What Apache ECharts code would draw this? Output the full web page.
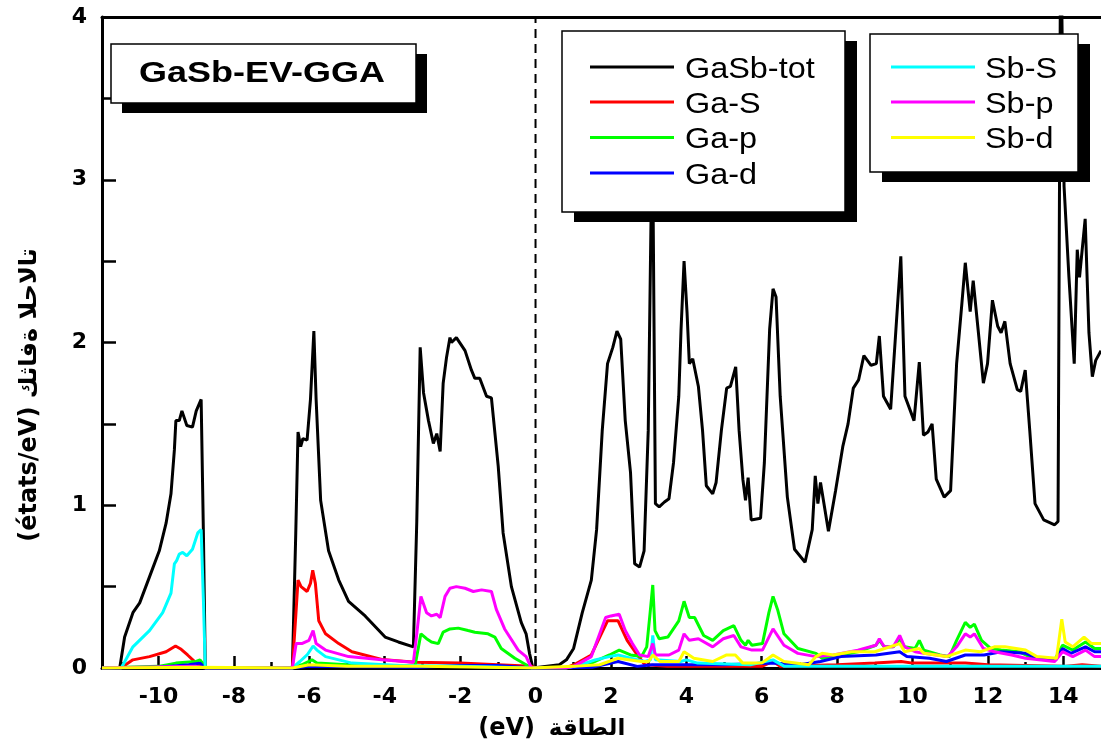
<!DOCTYPE html>
<html>
<head>
<meta charset="utf-8">
<script src="https://cdn.jsdelivr.net/npm/echarts@6/dist/echarts.min.js"></script>
<style>
  html, body { margin: 0; padding: 0; background: #fff; }
  #chart { width: 1101px; height: 749px; }
</style>
</head>
<body>
<div id="chart"></div>
<script>
// DOS curves, [energy (eV), value (états/eV)]
const gasbTot = [[-11.5,0],[-11.03,0],[-10.9,0.19],[-10.68,0.34],[-10.5,0.40],[-10.24,0.56],[-9.98,0.72],[-9.8,0.89],[-9.67,1.07],[-9.58,1.34],[-9.54,1.52],[-9.45,1.52],[-9.38,1.58],[-9.25,1.49],[-9.1,1.48],[-9.0,1.58],[-8.87,1.65],[-8.81,0.83],[-8.76,0],[-6.45,0],[-6.36,0.83],[-6.30,1.45],[-6.23,1.36],[-6.17,1.41],[-6.06,1.40],[-5.97,1.65],[-5.88,2.07],[-5.82,1.65],[-5.70,1.03],[-5.49,0.72],[-5.22,0.54],[-4.96,0.41],[-4.52,0.32],[-3.99,0.19],[-3.64,0.16],[-3.24,0.13],[-3.15,0.9],[-3.06,1.97],[-2.97,1.69],[-2.84,1.52],[-2.71,1.38],[-2.62,1.44],[-2.53,1.33],[-2.45,1.75],[-2.36,1.91],[-2.27,2.03],[-2.23,2.0],[-2.10,2.03],[-1.87,1.95],[-1.70,1.83],[-1.61,1.78],[-1.48,1.78],[-1.30,1.67],[-1.17,1.66],[-0.99,1.24],[-0.86,0.83],[-0.64,0.50],[-0.38,0.28],[-0.25,0.21],[-0.16,0.09],[-0.07,0],[0.63,0.02],[0.82,0.05],[1.01,0.12],[1.24,0.34],[1.48,0.54],[1.62,0.85],[1.77,1.46],[1.91,1.87],[2.05,1.97],[2.16,2.07],[2.26,2.02],[2.38,1.52],[2.52,1.20],[2.63,0.64],[2.76,0.62],[2.88,0.72],[2.99,1.46],[3.1,3.4],[3.18,1.01],[3.28,0.99],[3.42,1.02],[3.54,1.04],[3.66,1.26],[3.80,1.67],[3.86,2.08],[3.94,2.50],[4.02,2.18],[4.08,1.87],[4.17,1.90],[4.32,1.73],[4.43,1.46],[4.53,1.12],[4.70,1.07],[4.79,1.14],[4.93,1.46],[5.07,1.72],[5.17,1.73],[5.31,1.85],[5.40,1.46],[5.50,1.16],[5.57,1.03],[5.64,1.17],[5.72,0.91],[5.97,0.92],[6.07,1.26],[6.21,2.08],[6.30,2.33],[6.38,2.28],[6.49,1.67],[6.68,1.05],[6.87,0.73],[7.15,0.65],[7.34,0.85],[7.42,1.18],[7.49,1.01],[7.56,1.14],[7.77,0.84],[7.96,1.09],[8.15,1.36],[8.29,1.50],[8.43,1.72],[8.57,1.77],[8.71,1.92],[8.90,1.86],[9.04,1.87],[9.12,2.04],[9.23,1.67],[9.42,1.59],[9.56,2.08],[9.69,2.53],[9.80,1.67],[10.04,1.52],[10.18,1.88],[10.29,1.43],[10.41,1.45],[10.52,1.50],[10.63,1.16],[10.84,1.05],[11.01,1.09],[11.17,1.87],[11.31,2.24],[11.40,2.49],[11.53,2.19],[11.61,2.38],[11.74,2.08],[11.88,1.75],[11.99,1.87],[12.12,2.26],[12.26,2.10],[12.35,2.06],[12.45,2.13],[12.59,1.87],[12.78,1.71],[12.87,1.70],[12.99,1.83],[13.11,1.46],[13.25,1.01],[13.48,0.91],[13.77,0.88],[13.86,0.9],[13.93,4.6],[14.02,2.96],[14.15,2.4],[14.29,1.87],[14.37,2.57],[14.43,2.40],[14.58,2.76],[14.68,2.06],[14.77,1.79],[14.86,1.89],[15,1.95]];

const gaS = [[-11.5,0],[-11.0,0],[-10.68,0.05],[-10.24,0.07],[-9.8,0.10],[-9.55,0.135],[-9.4,0.115],[-9.23,0.08],[-9.0,0.03],[-8.85,0.01],[-8.76,0],[-6.45,0],[-6.36,0.32],[-6.30,0.54],[-6.22,0.50],[-6.06,0.47],[-5.97,0.52],[-5.91,0.60],[-5.84,0.52],[-5.75,0.29],[-5.57,0.21],[-5.22,0.15],[-4.87,0.10],[-4.08,0.053],[-3.19,0.035],[-2.0,0.03],[-1.0,0.02],[-0.1,0.01],[0,0],[0.8,0],[1.02,0.02],[1.48,0.08],[1.91,0.29],[2.19,0.29],[2.43,0.17],[2.67,0.09],[2.9,0.02],[3.5,0.01],[6.0,0.01],[6.3,0.04],[6.5,0.01],[8,0.02],[9,0.03],[9.7,0.04],[10,0.03],[11.4,0.03],[12,0.02],[14,0.01],[14.5,0.02],[15,0.01]];

const gaP = [[-11.5,0],[-10,0.01],[-9.54,0.03],[-9.0,0.04],[-8.9,0.05],[-8.8,0.02],[-8.76,0],[-6.45,0],[-6.2,0.02],[-5.93,0.05],[-5.8,0.03],[-5,0.02],[-3.2,0.01],[-3.15,0.02],[-3.04,0.21],[-2.89,0.18],[-2.76,0.16],[-2.58,0.15],[-2.45,0.22],[-2.27,0.24],[-2.05,0.245],[-1.79,0.23],[-1.61,0.22],[-1.26,0.21],[-1.08,0.19],[-0.91,0.12],[-0.55,0.06],[-0.25,0.02],[-0.1,0],[0.8,0],[1.1,0.01],[1.48,0.03],[1.96,0.08],[2.22,0.11],[2.52,0.08],[2.81,0.07],[2.95,0.13],[3.04,0.34],[3.11,0.51],[3.17,0.23],[3.28,0.18],[3.51,0.19],[3.80,0.29],[3.94,0.41],[4.08,0.31],[4.22,0.31],[4.46,0.20],[4.70,0.17],[4.98,0.23],[5.26,0.26],[5.45,0.17],[5.57,0.14],[5.64,0.17],[5.74,0.14],[6.02,0.15],[6.19,0.34],[6.30,0.44],[6.42,0.36],[6.59,0.21],[6.96,0.12],[7.44,0.09],[7.6,0.06],[7.9,0.07],[8.55,0.10],[9.03,0.14],[9.12,0.17],[9.25,0.13],[9.49,0.13],[9.66,0.18],[9.79,0.13],[10.07,0.12],[10.18,0.17],[10.3,0.11],[10.73,0.08],[10.98,0.07],[11.17,0.17],[11.40,0.28],[11.53,0.25],[11.64,0.27],[11.83,0.17],[12.07,0.12],[12.35,0.11],[12.82,0.10],[13.1,0.07],[13.77,0.05],[13.98,0.14],[14.25,0.11],[14.59,0.16],[14.83,0.12],[15,0.12]];

const gaD = [[-11.5,0],[-10,0.005],[-9.2,0.02],[-8.9,0.03],[-8.76,0],[-6.45,0],[-6,0.01],[-3.1,0.005],[-2,0.015],[-1,0.015],[-0.1,0],[1.5,0.005],[2.19,0.04],[2.7,0.01],[3.1,0.02],[4,0.02],[5,0.02],[6.3,0.03],[7,0.02],[7.56,0.04],[8.1,0.07],[9.03,0.08],[9.66,0.10],[9.85,0.07],[10.45,0.06],[10.9,0.04],[11.4,0.08],[11.9,0.08],[12.35,0.10],[13.0,0.09],[13.3,0.06],[13.8,0.05],[13.98,0.12],[14.2,0.09],[14.59,0.13],[14.83,0.10],[15,0.1]];

const sbS = [[-11.5,0],[-10.99,0],[-10.68,0.13],[-10.24,0.23],[-9.89,0.34],[-9.67,0.46],[-9.58,0.64],[-9.52,0.66],[-9.45,0.70],[-9.36,0.71],[-9.25,0.69],[-9.10,0.73],[-8.96,0.83],[-8.87,0.85],[-8.81,0.42],[-8.76,0],[-6.45,0],[-6.25,0.04],[-6.06,0.08],[-5.9,0.135],[-5.8,0.11],[-5.57,0.07],[-4.87,0.03],[-3.6,0.015],[-2,0.01],[-0.1,0],[0.8,0],[1.2,0.02],[1.58,0.05],[1.96,0.07],[2.19,0.08],[2.52,0.06],[2.9,0.04],[3.05,0.05],[3.11,0.20],[3.18,0.05],[3.85,0.04],[4.0,0.05],[4.3,0.03],[5.7,0.02],[6.3,0.05],[6.6,0.01],[15,0.01]];

const sbP = [[-11.5,0],[-10.5,0.005],[-9,0.01],[-8.76,0],[-6.45,0],[-6.35,0.15],[-6.2,0.15],[-6.01,0.17],[-5.90,0.23],[-5.82,0.15],[-5.57,0.11],[-4.96,0.07],[-4.08,0.05],[-3.24,0.035],[-3.15,0.21],[-3.04,0.44],[-2.89,0.34],[-2.76,0.32],[-2.62,0.33],[-2.53,0.31],[-2.40,0.44],[-2.27,0.49],[-2.10,0.50],[-1.87,0.49],[-1.65,0.47],[-1.43,0.48],[-1.17,0.47],[-1.04,0.36],[-0.82,0.24],[-0.46,0.11],[-0.25,0.07],[-0.11,0],[0.8,0],[1.02,0.01],[1.48,0.07],[1.86,0.31],[2.0,0.32],[2.22,0.33],[2.38,0.23],[2.57,0.15],[2.76,0.08],[2.99,0.07],[3.11,0.15],[3.18,0.08],[3.54,0.08],[3.80,0.11],[3.94,0.21],[4.08,0.17],[4.32,0.18],[4.70,0.13],[4.98,0.18],[5.26,0.20],[5.45,0.13],[5.74,0.11],[6.02,0.11],[6.30,0.24],[6.59,0.14],[6.96,0.09],[7.44,0.07],[7.9,0.08],[8.55,0.11],[9.03,0.14],[9.12,0.18],[9.25,0.13],[9.49,0.13],[9.66,0.20],[9.79,0.13],[10.07,0.10],[10.3,0.09],[10.93,0.07],[11.17,0.13],[11.40,0.21],[11.53,0.19],[11.64,0.21],[11.88,0.12],[12.17,0.10],[12.63,0.08],[13.0,0.06],[13.77,0.04],[13.98,0.10],[14.25,0.07],[14.59,0.11],[14.83,0.07],[15,0.07]];

const sbD = [[-11.5,0],[-9,0.005],[-6.45,0],[-6,0.02],[-5,0.01],[-3,0.01],[-0.1,0],[1,0.01],[1.7,0.02],[2.19,0.06],[2.8,0.04],[3.0,0.04],[3.11,0.08],[3.3,0.04],[3.8,0.04],[3.94,0.10],[4.2,0.06],[4.7,0.04],[5.07,0.08],[5.3,0.08],[5.5,0.03],[6.0,0.03],[6.30,0.08],[6.59,0.04],[7.25,0.02],[7.44,0.07],[7.6,0.09],[7.9,0.08],[8.38,0.10],[9.0,0.10],[9.66,0.15],[9.79,0.10],[10.18,0.12],[10.3,0.09],[10.9,0.07],[11.4,0.11],[11.8,0.10],[12.17,0.13],[12.45,0.13],[13.0,0.11],[13.3,0.07],[13.82,0.06],[13.96,0.30],[14.05,0.16],[14.25,0.13],[14.55,0.19],[14.75,0.15],[15,0.15]];

const seriesNames = ['GaSb-tot', 'Ga-S', 'Ga-p', 'Ga-d', 'Sb-S', 'Sb-p', 'Sb-d'];
const seriesColors = ['#000000', '#ff0000', '#00ff00', '#0000ff', '#00ffff', '#ff00ff', '#ffff00'];
const seriesData = [gasbTot, gaS, gaP, gaD, sbS, sbP, sbD];

const xMajorTicks = [-10, -8, -6, -4, -2, 0, 2, 4, 6, 8, 10, 12, 14];
const xMinorTicks = [-11, -9, -7, -5, -3, -1, 1, 3, 5, 7, 9, 11, 13];
const fermiLine = [[0, 0], [0, 4]];

const chart = echarts.init(document.getElementById('chart'));

const tickFont = { color: '#000', fontFamily: 'DejaVu Sans', fontWeight: 'bold', fontSize: 22 };

const series = seriesData.map((data, i) => ({
  name: seriesNames[i],
  type: 'line',
  data,
  symbol: 'none',
  lineStyle: { color: seriesColors[i], width: 3 },
  itemStyle: { color: seriesColors[i] },
  z: 2 + i,
  silent: true
}));

series.push({
  type: 'line',
  data: fermiLine,
  symbol: 'none',
  lineStyle: { color: '#000', width: 2, type: [9, 6] },
  z: 1,
  silent: true
});

// legend boxes built as graphics (with offset black shadow)
function legendGroup(names, x0, y0, w, h, lineX, textX, rows) {
  const els = [
    { type: 'rect', shape: { x: x0 + 12, y: y0 + 10, width: w, height: h }, style: { fill: '#000' } },
    { type: 'rect', shape: { x: x0, y: y0, width: w, height: h }, style: { fill: '#fff', stroke: '#000', lineWidth: 1.5 } }
  ];
  names.forEach((n, i) => {
    const idx = seriesNames.indexOf(n);
    els.push({ type: 'line', shape: { x1: lineX, y1: rows[i], x2: lineX + 84, y2: rows[i] },
      style: { stroke: seriesColors[idx], lineWidth: 3 } });
    els.push({ type: 'text', x: textX, y: rows[i] + 2.5, scaleX: 1.08,
      style: { text: n, x: 0, y: 0, fill: '#000', font: '30px "Liberation Sans", Arial', verticalAlign: 'middle', align: 'left' } });
  });
  return els;
}

const rows = [67, 102, 137.5, 173];

const graphics = [
  { type: 'rect', shape: { x: 122, y: 54, width: 305, height: 59 }, style: { fill: '#000' } },
  { type: 'rect', shape: { x: 111, y: 44, width: 305, height: 59 }, style: { fill: '#fff', stroke: '#000', lineWidth: 1.5 } },
  { type: 'text', x: 262, y: 74, scaleX: 1.24,
    style: { text: 'GaSb-EV-GGA', x: 0, y: 0, fill: '#000', font: 'bold 29px "Liberation Sans", Arial', align: 'center', verticalAlign: 'middle' } },
  ...legendGroup(['GaSb-tot', 'Ga-S', 'Ga-p', 'Ga-d'], 562, 31, 283, 181, 590, 685, rows),
  ...legendGroup(['Sb-S', 'Sb-p', 'Sb-d'], 870, 34, 208, 138, 891, 985, rows),
  { type: 'text', x: 30, y: 395, rotation: Math.PI / 2,
    style: { text: '\u202D(états/eV) كثافة الحالات\u202C', x: 0, y: 0, fill: '#000', font: 'bold 24px "DejaVu Sans"', align: 'center', verticalAlign: 'middle' } },
  { type: 'text', x: 535, y: 729,
    style: { text: '(eV)', x: 0, y: 0, fill: '#000', font: 'bold 24px "DejaVu Sans"', align: 'right', verticalAlign: 'middle' } },
  { type: 'text', x: 587, y: 729,
    style: { text: 'الطاقة', x: 0, y: 0, fill: '#000', font: 'bold 23px "DejaVu Sans"', align: 'center', verticalAlign: 'middle' } }
].map(g => Object.assign({ z: 100 }, g));

const option = {
  backgroundColor: '#fff',
  animation: false,
  grid: { left: 102, top: 17, width: 1003, height: 651 },
  xAxis: [
    {
      type: 'value', position: 'bottom', min: -11.5, max: 15,
      axisLine: { show: true, onZero: false, lineStyle: { color: '#000', width: 3 } },
      axisTick: { show: true, inside: true, length: 12, customValues: xMajorTicks, lineStyle: { color: '#000', width: 2.5 } },
      axisLabel: Object.assign({ margin: 18, customValues: xMajorTicks }, tickFont),
      splitLine: { show: false }
    },
    {
      type: 'value', position: 'bottom', min: -11.5, max: 15,
      axisLine: { show: false },
      axisTick: { show: true, inside: true, length: 6, customValues: xMinorTicks, lineStyle: { color: '#000', width: 2.5 } },
      axisLabel: { show: false },
      splitLine: { show: false }
    },
    {
      type: 'value', position: 'top', min: -11.5, max: 15,
      axisLine: { show: true, onZero: false, lineStyle: { color: '#000', width: 3 } },
      axisTick: { show: false },
      axisLabel: { show: false },
      splitLine: { show: false }
    }
  ],
  yAxis: {
    type: 'value', min: 0, max: 4, interval: 1,
    axisLine: { show: true, onZero: false, lineStyle: { color: '#000', width: 3 } },
    axisTick: { show: true, inside: true, length: 14, lineStyle: { color: '#000', width: 2.5 } },
    minorTick: { show: true, splitNumber: 2, length: 14, lineStyle: { color: '#000', width: 2.5 } },
    axisLabel: Object.assign({ margin: 15 }, tickFont),
    splitLine: { show: false }
  },
  series,
  graphic: graphics
};

chart.setOption(option);
</script>
</body>
</html>
